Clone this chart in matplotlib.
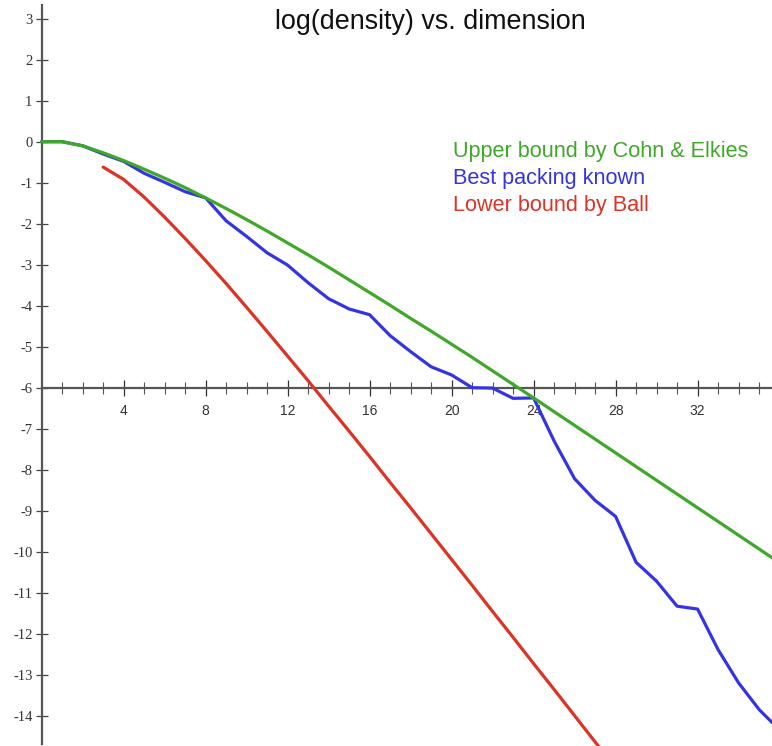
import matplotlib
matplotlib.use("Agg")
import matplotlib.pyplot as plt
from matplotlib.ticker import FixedLocator

# ---- data ----
dims_upper = list(range(0, 37))
upper_cohn_elkies = [0.00, 0.00, -0.10, -0.27, -0.46, -0.67, -0.89, -1.12, -1.37,
                     -1.63, -1.90, -2.18, -2.47, -2.76, -3.06, -3.37, -3.68, -3.99,
                     -4.31, -4.62, -4.94, -5.26, -5.59, -5.92, -6.25, -6.585, -6.92,
                     -7.255, -7.59, -7.925, -8.26, -8.595, -8.93, -9.265, -9.60,
                     -9.935, -10.27]

dims_best = list(range(0, 37))
best_known = [0.00, 0.00, -0.10, -0.30, -0.48, -0.77, -0.99, -1.22, -1.37,
              -1.93, -2.31, -2.71, -3.01, -3.44, -3.83, -4.08, -4.22, -4.73,
              -5.12, -5.49, -5.69, -6.00, -6.01, -6.26, -6.25, -7.30, -8.22,
              -8.75, -9.14, -10.26, -10.72, -11.33, -11.40, -12.39, -13.20,
              -13.85, -14.35]

dims_lower = list(range(3, 29))
lower_ball = [-0.62, -0.92, -1.35, -1.84, -2.36, -2.90, -3.46, -4.04, -4.63,
              -5.23, -5.83, -6.45, -7.06, -7.68, -8.31, -8.93, -9.56, -10.19,
              -10.82, -11.46, -12.09, -12.73, -13.36, -14.00, -14.64, -15.28]

x_major_labels = [4, 8, 12, 16, 20, 24, 28, 32]
x_minor_ticks = [v for v in range(1, 36) if v % 4 != 0]
y_tick_values = list(range(-14, 4))

title_text = "log(density) vs. dimension"
legend_labels = ["Upper bound by Cohn & Elkies", "Best packing known", "Lower bound by Ball"]

GREEN = "#3fa829"
BLUE = "#3434e4"
RED = "#dc3324"
AXIS = "#555555"

fig = plt.figure(figsize=(7.72, 7.46), dpi=100)
ax = fig.add_axes([0, 0, 1, 1])
ax.set_xlim(-2.03, 35.63)
ax.set_ylim(-14.74, 3.456)

lw = 2.3
ax.plot(dims_lower, lower_ball, color=RED, lw=lw, solid_capstyle="round", zorder=3)
ax.plot(dims_best, best_known, color=BLUE, lw=lw, solid_capstyle="round", zorder=4)
ax.plot(dims_upper, upper_cohn_elkies, color=GREEN, lw=lw, solid_capstyle="round", zorder=5)

for s in ["top", "right"]:
    ax.spines[s].set_visible(False)
ax.spines["left"].set_position(("data", 0))
ax.spines["bottom"].set_position(("data", -6))
ax.spines["left"].set_bounds(-14.68, 3.33)
ax.spines["bottom"].set_bounds(0, 35.63)
for s in ["left", "bottom"]:
    ax.spines[s].set_color(AXIS)
    ax.spines[s].set_linewidth(1.6)
    ax.spines[s].set_zorder(2)

ax.xaxis.set_major_locator(FixedLocator(x_major_labels))
ax.xaxis.set_minor_locator(FixedLocator(x_minor_ticks))
ax.set_xticklabels([str(v) for v in x_major_labels])
ax.yaxis.set_major_locator(FixedLocator(y_tick_values))
ax.set_yticklabels([str(v) for v in y_tick_values])

ax.tick_params(axis="x", which="major", direction="inout", length=12, width=0.9,
               color="#333333", pad=6, labelsize=10, labelcolor="#333333")
ax.tick_params(axis="x", which="minor", direction="inout", length=8, width=0.8,
               color="#555555")
ax.tick_params(axis="y", which="major", direction="inout", length=9, width=0.9,
               color="#444444", pad=2, labelsize=10.5, labelcolor="#333333")
for lab in ax.get_xticklabels():
    lab.set_fontfamily("Liberation Sans")
for lab in ax.get_yticklabels():
    lab.set_fontfamily("Liberation Serif")

ax.text(430, 746 - 22, title_text, transform=None, ha="center", va="center",
        fontsize=19.4, family="Liberation Sans", color="#111111")

for i, (lbl, col) in enumerate(zip(legend_labels, [GREEN, BLUE, RED])):
    ax.text(453, 746 - 157 - 27 * i, lbl, transform=None, ha="left", va="baseline",
            fontsize=15.6, family="Liberation Sans", color=col)

fig.savefig("out.png", dpi=100)
